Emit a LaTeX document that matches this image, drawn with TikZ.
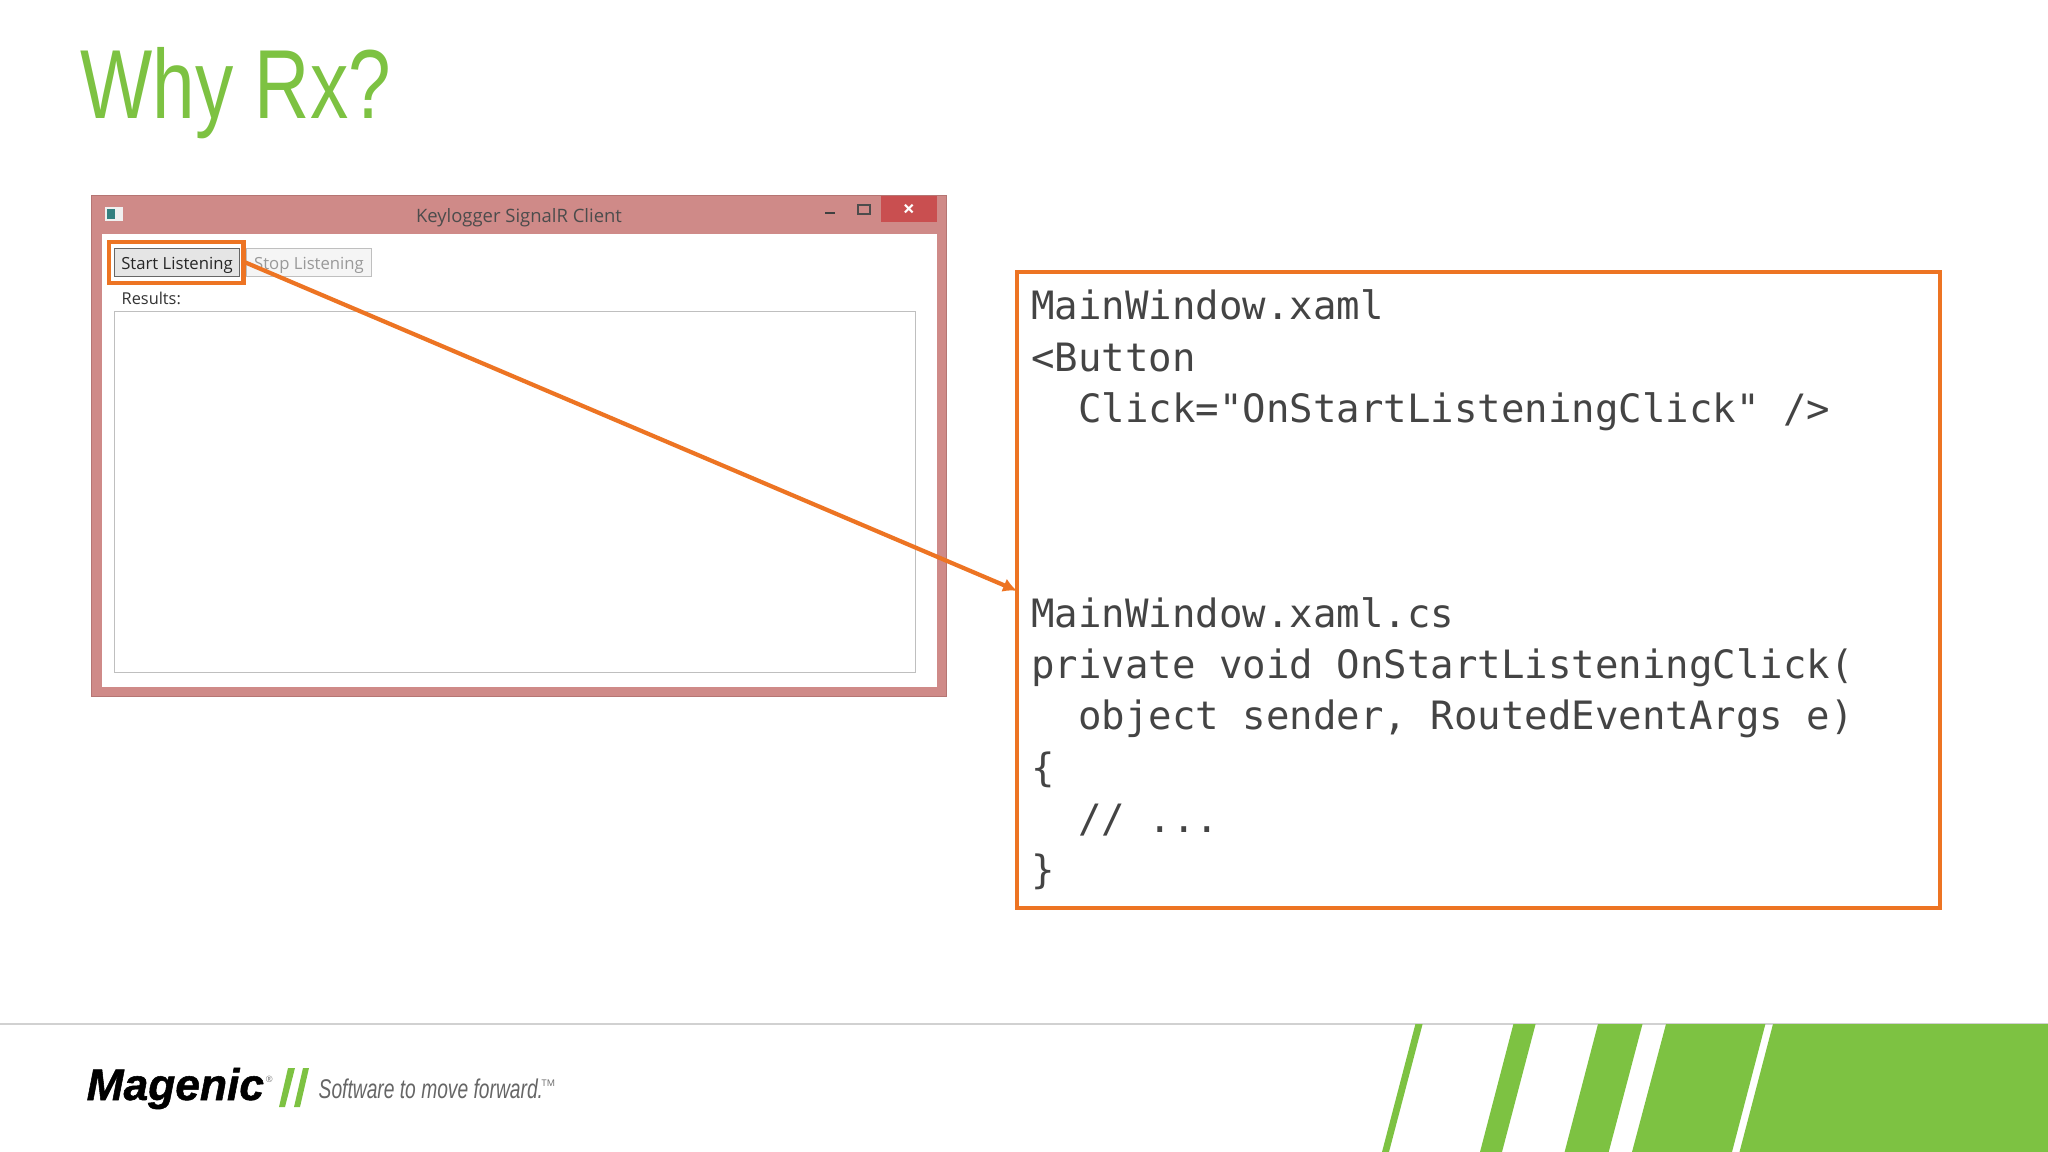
\documentclass[tikz,border=0pt]{standalone}
\usepackage{fontspec}
\usepackage{xcolor}
\usepackage{tikz}
\usetikzlibrary{calc}
\usetikzlibrary{arrows.meta}
\newfontfamily\titlefont[FakeStretch=0.78]{Liberation Sans}
\newfontfamily\uifont{Open Sans}
\newfontfamily\codefont{DejaVu Sans Mono}
\newfontfamily\brandfont[FakeBold=1.2]{Liberation Sans}
\newfontfamily\tagfont[FakeStretch=0.71]{Liberation Sans}
\definecolor{rx_green}{HTML}{7DC242}
\definecolor{rx_orange}{HTML}{ED7423}
\definecolor{win_rose}{HTML}{CF8A88}
\definecolor{win_edge}{HTML}{B57573}
\definecolor{win_close}{HTML}{C94F50}
\definecolor{code_grey}{HTML}{444444}
\tikzset{ ui_text/.style = {inner sep=0pt, anchor=base west, text=black!80, font=\uifont\fontsize{4.65}{6}\selectfont} }
\tikzset{ ui_button/.style = {rectangle, draw=black!35, line width=0.3pt, inner sep=0pt, text height=3.8pt, text depth=0pt, minimum width=1.24cm, minimum height=0.28cm, font=\uifont\fontsize{4.75}{6}\selectfont} }
\tikzset{ code_box/.style = {rectangle, draw=rx_orange, line width=1.15pt, inner xsep=0.14cm, inner ysep=0pt, minimum height=6.36cm, text width=8.94cm, align=left, text=code_grey, font=\codefont\fontsize{11.1}{14.58}\selectfont} }
\tikzset{ hi_box/.style = {rectangle, draw=rx_orange, line width=1.4pt, inner sep=0pt, minimum width=1.34cm, minimum height=0.41cm} }

\begin{document}
\begin{tikzpicture}[x=0.01cm,y=-0.01cm]
\useasboundingbox (0,0) rectangle (2048,1152);
\node[inner sep=0pt, anchor=base west, text=rx_green, font=\titlefont\fontsize{27.9}{30}\selectfont] (title) at (80,119) {Why Rx?};
% window
\node[rectangle, draw=win_edge, line width=0.3pt, fill=win_rose, inner sep=0pt, minimum width=8.54cm, minimum height=5cm] (win_frame) at (519,446) {};
\node[rectangle, fill=white, inner sep=0pt, minimum width=8.35cm, minimum height=4.53cm] (win_body) at (519.5,460.5) {};
\node[rectangle, fill=win_close, inner sep=0pt, minimum width=0.56cm, minimum height=0.26cm] (win_x) at (909,209) {};
\node[inner sep=0pt, text=white, font=\bfseries\uifont\fontsize{6}{6}\selectfont] (win_x_mark) at (909,210) {\symbol{"00D7}};
\node[rectangle, fill=black!75, inner sep=0pt, minimum width=0.1cm, minimum height=0.012cm] (win_min) at (830,213) {};
\node[rectangle, draw=black!70, line width=0.35pt, inner sep=0pt, minimum width=0.12cm, minimum height=0.09cm] (win_max) at (864,209.5) {};
\node[rectangle, fill=black!6, inner sep=0pt, minimum width=0.17cm, minimum height=0.14cm] (win_icon) at (114,214) {};
\node[rectangle, fill=teal!60!gray, inner sep=0pt, minimum width=0.07cm, minimum height=0.1cm] (win_icon_in) at (111,214) {};
\node[inner sep=0pt, text=black!70, font=\uifont\fontsize{5.25}{6}\selectfont] (win_title) at (519,218) {Keylogger SignalR Client};
\node[ui_button, fill=black!10, draw=black!60, text=black!85] (start_btn) at (177,262.5) {Start Listening};
\node[ui_button, fill=black!4, draw=black!25, text=black!40] (stop_btn) at (309,262.5) {Stop Listening};
\node[ui_text] (results) at (121,305) {Results:};
\node[rectangle, draw=black!25, line width=0.3pt, fill=white, inner sep=0pt, minimum width=8.01cm, minimum height=3.6cm] (list_box) at (515,492) {};
% highlight and code
\node[hi_box] (start_hi) at (176,262.5) {};
\node[code_box] (code) at (1478.5,590) {\spaceskip=0.602em\relax MainWindow.xaml\\
<Button\\
~~Click="OnStartListeningClick" />\\
~\\
~\\
~\\
MainWindow.xaml.cs\\
private void OnStartListeningClick(\\
~~object sender, RoutedEventArgs e)\\
\{\\
~~// ...\\
\}};
\draw[-{Latex[length=4pt,width=4pt]}, draw=rx_orange, line width=1.2pt, shorten >=-0.6pt] (start_hi.east) -- (code.west);
% footer
\node[rectangle, fill=black!18, inner sep=0pt, minimum width=20.48cm, minimum height=0.02cm] (foot_line) at (1024,1024) {};
\fill[rx_green] (1415.4,1024) -- (1422.6,1024) -- (1389,1152) -- (1382,1152) -- cycle;
\fill[rx_green] (1513.4,1024) -- (1535.6,1024) -- (1502,1152) -- (1480,1152) -- cycle;
\fill[rx_green] (1598,1024) -- (1642.5,1024) -- (1608.7,1152) -- (1564.6,1152) -- cycle;
\fill[rx_green] (1666,1024) -- (1765.4,1024) -- (1732,1152) -- (1632,1152) -- cycle;
\fill[rx_green] (1773,1024) -- (2048,1024) -- (2048,1152) -- (1739.5,1152) -- cycle;
\node[inner sep=0pt, anchor=base west, text=black, font=\brandfont\bfseries\itshape\fontsize{12.6}{14}\selectfont] (brand) at (86,1100) {Magenic};
\node[inner sep=0pt, anchor=base west, text=black!50, font=\uifont\fontsize{2.5}{3}\selectfont] (brand_r) at (265,1082) {®};
\fill[rx_green] (288,1068) -- (295,1068) -- (285,1107) -- (279,1107) -- cycle;
\fill[rx_green] (303,1068) -- (309,1068) -- (300,1107) -- (294,1107) -- cycle;
\node[inner sep=0pt, anchor=base west, text=black!60, font=\tagfont\itshape\fontsize{7.7}{9}\selectfont] (tagline) at (318,1098) {Software to move forward.};
\node[inner sep=0pt, anchor=base west, text=black!60, font=\uifont\fontsize{2.6}{3}\selectfont] (tagline_tm) at (541,1086) {TM};
\end{tikzpicture}
\end{document}
